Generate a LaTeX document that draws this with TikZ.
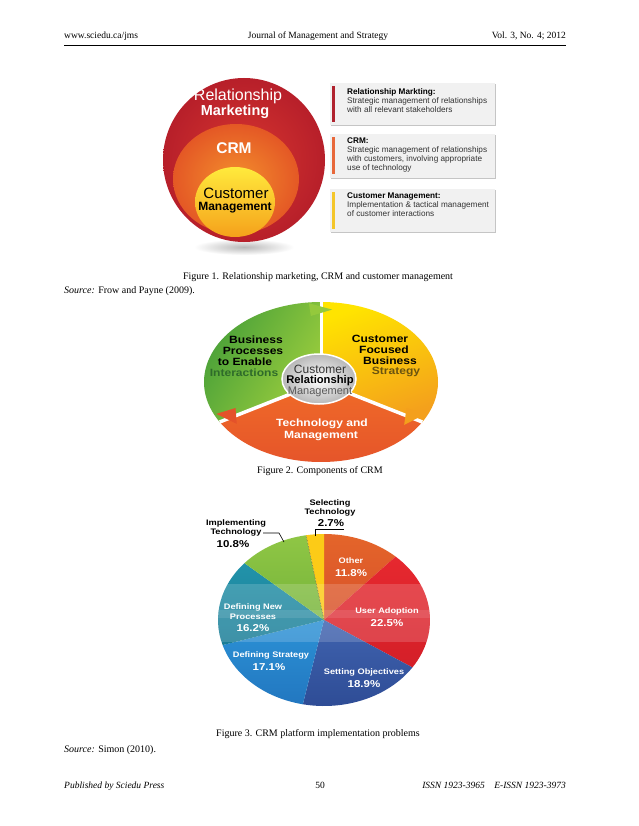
\documentclass[tikz,border=0pt]{standalone}
\usepackage{fontspec}
\setmainfont{Liberation Serif}
\newfontfamily\arialf{Liberation Sans}
\newfontfamily\arialw[FakeStretch=1.15]{Liberation Sans}
\usetikzlibrary{shadows}
\newcommand{\myfs}[2]{\fontsize{#1}{#2}\selectfont}
% figure 1 colours
\definecolor{rmin}{HTML}{D7362F}
\definecolor{rmout}{HTML}{B71F2A}
\definecolor{crmin}{HTML}{F38E2D}
\definecolor{crmout}{HTML}{E45825}
\definecolor{cmtop}{HTML}{FFEA3C}
\definecolor{cmmid}{HTML}{FCD017}
\definecolor{cmbot}{HTML}{F5A11B}
\definecolor{boxgray}{HTML}{F1F1F1}
\definecolor{barred}{HTML}{B0222E}
\definecolor{barorange}{HTML}{E8683A}
\definecolor{baryellow}{HTML}{F4C62A}
\definecolor{boxtext}{HTML}{333333}
% figure 2 colours
\definecolor{gdark}{HTML}{3F9B38}
\definecolor{glight}{HTML}{9DCE3D}
\definecolor{ytop}{HTML}{FFE400}
\definecolor{ybot}{HTML}{F4A01C}
\definecolor{otop}{HTML}{F06B28}
\definecolor{obot}{HTML}{E4522A}
\definecolor{centgray}{HTML}{B7B7B7}
\definecolor{intgreen}{HTML}{2F6B2A}
\definecolor{stratbrown}{HTML}{6B5410}
% figure 3 colours
\definecolor{pother}{HTML}{E4652A}
\definecolor{potherd}{HTML}{D8512A}
\definecolor{puser}{HTML}{E6282F}
\definecolor{puserd}{HTML}{D41F28}
\definecolor{pset}{HTML}{4063AF}
\definecolor{psetd}{HTML}{2D4B94}
\definecolor{pstrat}{HTML}{2C92D6}
\definecolor{pstratd}{HTML}{2277C0}
\definecolor{pnew}{HTML}{2293AA}
\definecolor{pnewd}{HTML}{1A7C96}
\definecolor{pimp}{HTML}{8FC645}
\definecolor{pimpd}{HTML}{76B43A}
\definecolor{psel}{HTML}{FCCB17}
\begin{document}
\begin{tikzpicture}[x=1pt,y=-1pt,
  serif/.style={font=\myfs{10}{12}, inner sep=0pt},
  hdr/.style={font=\myfs{9.5}{11}, inner sep=0pt},
  infobox/.style={fill=boxgray, minimum width=165pt, anchor=north west, inner sep=0pt,
    drop shadow={shadow xshift=0.9pt, shadow yshift=-0.9pt, opacity=0.45}},
  boxtxt/.style={anchor=north west, align=left, inner sep=0pt, text=boxtext,
    font=\arialf\myfs{8.2}{9}},
  ftext/.style={inner sep=0pt, font=\arialw\bfseries\myfs{10.5}{11}},
  plab/.style={inner sep=0pt, text=white, font=\arialw\bfseries\myfs{8}{10}},
  ppct/.style={inner sep=0pt, text=white, font=\arialw\bfseries\myfs{10}{12}},
  blab/.style={inner sep=0pt, text=black, font=\arialw\bfseries\myfs{8}{10}},
  bpct/.style={inner sep=0pt, text=black, font=\arialw\bfseries\myfs{10}{12}},
  leader/.style={draw=black, line width=0.6pt}
]
\useasboundingbox (0,0) rectangle (638,826);
\fill[white] (0,0) rectangle (638,826);

% ---------- header ----------
\node[hdr, anchor=base west] (hl) at (64,39) {www.sciedu.ca/jms};
\node[hdr, anchor=base] (hc) at (318,39) {Journal of Management and Strategy};
\node[hdr, anchor=base east] (hr) at (566,39) {Vol. 3, No. 4; 2012};
\coordinate (rulea) at (64,45);
\coordinate (ruleb) at (566,45);
\draw[line width=0.8pt] (rulea) -- (ruleb);

% ---------- figure 1 ----------
\shade[inner color=gray!55, outer color=white] (244,247) ellipse [x radius=50, y radius=8];
\shade[inner color=rmin, outer color=rmout] (244,160) ellipse [x radius=81, y radius=82];
\shade[inner color=crmin, outer color=crmout] (236,179) ellipse [x radius=63, y radius=55];
\shade[top color=cmtop, middle color=cmmid, bottom color=cmbot] (235,202) ellipse [x radius=40, y radius=35];

\node[inner sep=0pt, text=white, font=\arialf\myfs{16}{17}] (rm1) at (238,96) {Relationship};
\node[inner sep=0pt, text=white, font=\arialf\bfseries\myfs{14.5}{15}] (rm2) at (235,112) {Marketing};
\node[inner sep=0pt, text=white, font=\arialf\bfseries\myfs{15.5}{16}] (crm) at (234,148) {CRM};
\node[inner sep=0pt, text=black, font=\arialf\myfs{15}{15}] (cm1) at (236,193) {Customer};
\node[inner sep=0pt, text=black, font=\arialf\bfseries\myfs{12}{12}] (cm2) at (235,208) {Management};

\node[infobox, minimum height=42pt] (b1) at (330,83) {};
\node[infobox, minimum height=44pt] (b2) at (330,134) {};
\node[infobox, minimum height=43pt] (b3) at (330,189) {};
\fill[barred] (331.5,86) rectangle (334.5,122);
\fill[barorange] (331.5,137) rectangle (334.5,174);
\fill[baryellow] (331.5,192) rectangle (334.5,229);
\node[boxtxt] (t1) at (347,88) {\textcolor{black}{\bfseries Relationship Markting:}\\Strategic management of relationships\\with all relevant stakeholders};
\node[boxtxt] (t2) at (347,138) {\textcolor{black}{\bfseries CRM:}\\Strategic management of relationships\\with customers, involving appropriate\\use of technology};
\node[boxtxt] (t3) at (347,193) {\textcolor{black}{\bfseries Customer Management:}\\Implementation \& tactical management\\of customer interactions};

\node[serif, anchor=base] (cap1) at (318,279) {Figure 1. Relationship marketing, CRM and customer management};
\node[serif, anchor=base west] (src1) at (64,293) {\textit{Source:} Frow and Payne (2009).};

% ---------- figure 2 ----------
\begin{scope}[shift={(321,382)}, x=117pt, y=80pt]
  \shade[top color=ytop, bottom color=ybot, shading angle=20] (0,0) -- (90:1) arc[start angle=90, end angle=-30, radius=1] -- cycle;
  \shade[top color=otop, bottom color=obot] (0,0) -- (-30:1) arc[start angle=-30, end angle=-150, radius=1] -- cycle;
  \shade[left color=gdark, right color=glight, shading angle=60] (0,0) -- (210:1) arc[start angle=210, end angle=90, radius=1] -- cycle;
  \draw[white, line width=3pt] (0,0) -- (90:1.0);
  \draw[white, line width=3.5pt] (0,0) -- (-30:1.0);
  \draw[white, line width=3.5pt] (0,0) -- (210:1.0);
  % arrowheads
  \fill[glight!90!gdark] (96:0.83) -- (96:0.99) -- (84:0.91) -- cycle;
  \fill[ybot] (-24:0.80) -- (-24:0.98) -- (-37:0.89) -- cycle;
  \fill[obot] (204:0.80) -- (204:0.98) -- (216:0.89) -- cycle;
\end{scope}
\shade[inner color=white, outer color=centgray, draw=white, line width=1.5pt] (319,379) ellipse [x radius=37, y radius=25];

\node[ftext] (l1) at (256,340) {Business};
\node[ftext] (l2) at (253,351) {Processes};
\node[ftext] (l3) at (245,362) {to Enable};
\node[ftext, text=intgreen] (l4) at (244,373) {Interactions};
\node[ftext] (r1) at (380,339) {Customer};
\node[ftext] (r2) at (384,350) {Focused};
\node[ftext] (r3) at (390,361) {Business};
\node[ftext, text=stratbrown] (r4) at (396,372) {Strategy};
\node[inner sep=0pt, text=black!80, font=\arialf\myfs{12}{12}] (c1) at (320,369) {Customer};
\node[inner sep=0pt, text=black, font=\arialf\bfseries\myfs{11.2}{12}] (c2) at (320,381) {Relationship};
\node[inner sep=0pt, text=black!65, font=\arialf\myfs{11}{12}] (c3) at (320,392) {Management};
\node[ftext, text=white] (o1) at (322,424) {Technology and};
\node[ftext, text=white] (o2) at (321,436) {Management};

\node[serif, anchor=base] (cap2) at (320,473) {Figure 2. Components of CRM};

% ---------- figure 3 ----------
\begin{scope}[shift={(324,620)}, x=106pt, y=86pt]
  \shade[top color=pother, bottom color=potherd] (0,0) -- (90:1) arc[start angle=90, end angle=47.52, radius=1] -- cycle;
  \shade[top color=puser, bottom color=puserd] (0,0) -- (47.52:1) arc[start angle=47.52, end angle=-33.48, radius=1] -- cycle;
  \shade[top color=pset, bottom color=psetd] (0,0) -- (-33.48:1) arc[start angle=-33.48, end angle=-101.52, radius=1] -- cycle;
  \shade[top color=pstrat, bottom color=pstratd] (0,0) -- (-101.52:1) arc[start angle=-101.52, end angle=-163.08, radius=1] -- cycle;
  \shade[top color=pnew, bottom color=pnewd] (0,0) -- (196.92:1) arc[start angle=196.92, end angle=138.6, radius=1] -- cycle;
  \shade[top color=pimp, bottom color=pimpd] (0,0) -- (138.6:1) arc[start angle=138.6, end angle=99.72, radius=1] -- cycle;
  \fill[psel] (0,0) -- (99.72:1) arc[start angle=99.72, end angle=90, radius=1] -- cycle;
  \begin{scope}
    \clip (0,0) circle [radius=1];
    \fill[white, opacity=0.16] (-1.1,0.42) rectangle (1.1,-0.26);
    \fill[white, opacity=0.10] (-1.1,0.12) rectangle (1.1,0.02);
  \end{scope}
  \draw[black!70, line width=0.5pt, densely dotted] (0,0) -- (99.72:1);
\end{scope}

\node[plab] (oth1) at (351,561) {Other};
\node[ppct] (oth2) at (351,573) {11.8\%};
\node[plab] (usr1) at (387,611) {User Adoption};
\node[ppct] (usr2) at (387,623) {22.5\%};
\node[plab] (set1) at (364,672) {Setting Objectives};
\node[ppct] (set2) at (364,684) {18.9\%};
\node[plab] (str1) at (271,655) {Defining Strategy};
\node[ppct] (str2) at (269,667) {17.1\%};
\node[plab] (new1) at (253,607) {Defining New};
\node[plab] (new2) at (253,617) {Processes};
\node[ppct] (new3) at (253,628) {16.2\%};

\node[blab] (sel1) at (330,503) {Selecting};
\node[blab] (sel2) at (330,512) {Technology};
\node[bpct] (sel3) at (331,523) {2.7\%};
\coordinate (selpt) at (315,536);
\coordinate (selend) at (344,529.5);
\draw[leader] (selpt) |- (selend);

\node[blab] (imp1) at (236,523) {Implementing};
\node[blab] (imp2) at (236,532) {Technology};
\node[bpct] (imp3) at (233,544) {10.8\%};
\coordinate (impa) at (263,533);
\coordinate (impb) at (279,533);
\coordinate (impc) at (284,542);
\draw[leader] (impa) -- (impb) -- (impc);

\node[serif, anchor=base] (cap3) at (318,736) {Figure 3. CRM platform implementation problems};
\node[serif, anchor=base west] (src3) at (64,752) {\textit{Source:} Simon (2010).};

% ---------- footer ----------
\node[hdr, anchor=base west, font=\myfs{9.5}{11}\itshape] (fl) at (64,788) {Published by Sciedu Press};
\node[hdr, anchor=base] (fc) at (320,788) {50};
\node[hdr, anchor=base east, font=\myfs{9.5}{11}\itshape] (fr) at (566,788) {ISSN 1923-3965\quad E-ISSN 1923-3973};
\end{tikzpicture}
\end{document}
